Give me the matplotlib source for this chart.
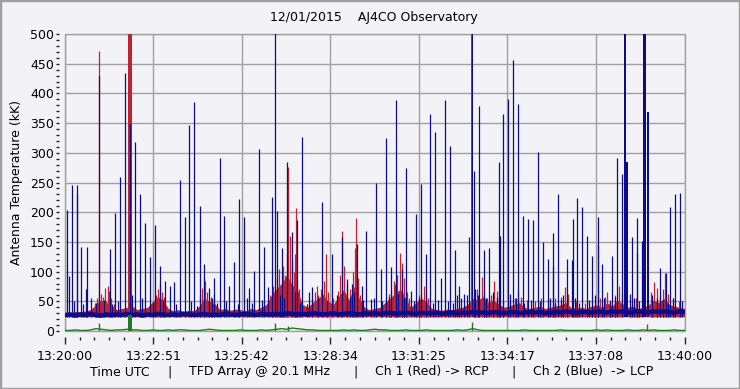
import matplotlib
matplotlib.use("Agg")
import matplotlib.pyplot as plt
from matplotlib.patches import Rectangle
from matplotlib.ticker import MultipleLocator, FixedLocator

# seconds after 13:20:00
x_ticks = [0, 171.43, 342.86, 514.29, 685.71, 857.14, 1028.57, 1200]
x_labels = ["13:20:00", "13:22:51", "13:25:42", "13:28:34",
            "13:31:25", "13:34:17", "13:37:08", "13:40:00"]

# slow levels, one value every 10 s
base_t = list(range(0, 1201, 10))
blue_base = [27, 28, 26, 28, 27, 29, 27, 26, 28, 27, 28,
             27, 29, 27, 28, 26, 28, 27, 29, 28, 27,
             28, 27, 29, 28, 27, 28, 29, 27, 28, 27,
             29, 28, 27, 28, 29, 28, 27, 29, 28, 28,
             29, 28, 30, 29, 28, 29, 28, 30, 29, 28,
             29, 30, 28, 29, 30, 29, 28, 30, 29, 30,
             29, 30, 31, 29, 30, 31, 30, 29, 31, 30,
             30, 31, 29, 30, 31, 30, 31, 30, 32, 31,
             31, 30, 32, 31, 30, 31, 32, 30, 31, 32,
             31, 32, 30, 31, 32, 31, 33, 32, 31, 32,
             32, 31, 33, 32, 31, 33, 32, 33, 31, 32,
             33, 32, 31, 33, 32, 33, 32, 31, 33, 32]
red_env = [30, 31, 33, 32, 34, 36, 45, 52, 48, 44, 36,
           38, 40, 42, 36, 38, 40, 50, 58, 52, 38,
           34, 36, 33, 35, 34, 42, 55, 50, 46, 36,
           38, 35, 37, 36, 34, 38, 36, 40, 45, 60,
           72, 80, 95, 78, 70, 45, 40, 48, 55, 62,
           50, 45, 58, 70, 52, 75, 55, 40, 36, 38,
           40, 48, 55, 65, 70, 55, 40, 48, 55, 50,
           38, 36, 35, 37, 36, 38, 40, 45, 55, 52,
           58, 48, 52, 45, 40, 42, 45, 48, 40, 38,
           40, 42, 38, 40, 42, 44, 48, 40, 38, 40,
           38, 42, 44, 40, 48, 42, 52, 46, 40, 42,
           38, 40, 44, 52, 48, 55, 45, 42, 40, 38]
green_level = [1, 1, 2, 1, 1, 2, 4, 3, 2, 1, 2,
               2, 3, 2, 2, 1, 1, 2, 1, 1, 2,
               1, 2, 2, 1, 1, 1, 2, 3, 2, 1,
               1, 1, 1, 2, 1, 1, 1, 2, 1, 2,
               3, 4, 3, 5, 4, 3, 2, 2, 1, 1,
               1, 1, 1, 2, 1, 2, 1, 1, 2, 3,
               2, 2, 1, 1, 1, 2, 1, 1, 1, 2,
               1, 1, 1, 1, 1, 2, 1, 2, 4, 2,
               1, 1, 1, 1, 1, 1, 1, 1, 2, 1,
               1, 1, 1, 1, 1, 2, 1, 1, 1, 1,
               1, 1, 2, 1, 2, 1, 1, 1, 2, 1,
               1, 2, 1, 2, 1, 1, 1, 2, 1, 1]

# Ch 2 (blue) bursts
blue_spike_t = [3.9, 8.3, 14.1, 22.7, 23.8, 31.6, 41.3, 42.6, 66.4, 87.7,
                97.4, 107.1, 116.8, 125.9, 136.2, 145.9, 155.5, 165.2, 174.9, 184.6,
                194.3, 204.0, 211.7, 223.3, 231.9, 240.2, 250.5, 260.9, 269.8, 279.5,
                289.2, 299.7, 308.6, 318.3, 328.0, 337.6, 347.3, 357.0, 366.1, 376.4,
                386.0, 393.8, 401.5, 407.4, 411.2, 420.9, 430.6, 440.3, 450.0, 459.7,
                472.1, 479.1, 498.5, 517.9, 537.2, 546.9, 555.4, 565.1, 574.8, 583.7,
                593.4, 603.0, 612.7, 622.4, 632.1, 641.8, 652.2, 661.1, 670.8, 680.5,
                690.2, 699.9, 707.6, 717.3, 727.8, 736.6, 746.3, 756.0, 759.9, 763.7,
                773.4, 783.1, 792.8, 802.5, 812.2, 821.9, 841.3, 843.2, 849.0, 858.7,
                868.4, 878.1, 887.7, 897.4, 907.1, 916.8, 926.5, 936.2, 944.7, 945.9,
                955.5, 965.2, 973.0, 982.6, 984.5, 992.3, 1002.0, 1011.7, 1021.4, 1031.8,
                1033.0, 1040.7, 1060.1, 1069.8, 1079.5, 1098.7, 1107.2, 1108.4, 1116.9, 1153.1,
                1163.5, 1172.5, 1182.2, 1191.9]
blue_spike_h = [204, 93, 245, 245, 230, 141, 70, 141, 430, 138,
                199, 259, 434, 348, 319, 231, 182, 125, 178, 110,
                85, 76, 83, 255, 192, 347, 385, 210, 113, 73,
                90, 291, 193, 75, 117, 222, 192, 73, 101, 306,
                142, 74, 226, 520, 202, 140, 285, 167, 187, 326,
                65, 74, 217, 130, 158, 88, 79, 147, 75, 168,
                54, 249, 104, 325, 107, 389, 105, 275, 67, 197,
                247, 130, 366, 335, 90, 389, 311, 136, 60, 76,
                62, 158, 270, 379, 136, 139, 285, 160, 365, 390,
                456, 382, 193, 189, 187, 302, 150, 121, 165, 110,
                231, 60, 121, 120, 189, 224, 209, 160, 126, 144,
                192, 113, 127, 292, 265, 159, 131, 190, 151, 106,
                98, 208, 231, 232]
blue_small_t = [18, 35, 50, 60, 75, 92, 102, 130, 150, 170, 190, 215, 245, 255,
                284, 295, 312, 335, 352, 362, 382, 416, 425, 445, 455, 468, 490, 507,
                526, 552, 560, 578, 598, 615, 628, 645, 656, 676, 686, 712, 722, 742,
                752, 768, 778, 795, 800, 816, 830, 836, 848, 862, 874, 890, 902, 920,
                940, 950, 960, 988, 996, 1015, 1026, 1045, 1055, 1065, 1094, 1102, 1112,
                1138, 1146, 1158, 1168, 1178, 1196]
blue_small_h = [50, 45, 55, 48, 52, 45, 50, 60, 55, 48, 52, 45, 50, 42,
                55, 48, 50, 45, 55, 48, 52, 60, 55, 65, 48, 45, 55, 50,
                60, 58, 65, 52, 55, 50, 58, 62, 55, 50, 55, 48, 52, 50,
                48, 55, 60, 70, 60, 55, 65, 58, 50, 62, 55, 48, 52, 50,
                55, 48, 52, 55, 48, 52, 60, 55, 50, 58, 62, 55, 50,
                60, 55, 52, 48, 55, 50]
blue_wide_t = [789.3, 1085.0, 1089.0, 1123.0, 1130.0]
blue_wide_h = [520, 520, 285, 520, 368]
blue_wide_w = [3.0, 4.0, 3.0, 6.0, 4.0]

# Ch 1 (red) bursts
red_spike_t = [66.4, 269.8, 432.9, 447.5, 445.0, 487.5, 505.0, 536.0, 564.3, 637.6,
               648.3, 695.6, 807.2, 831.7, 878.0, 968.5, 1050.4, 1073.6, 1141.5, 1162.3,
               58, 62, 70, 74, 78, 80, 84, 86, 90, 95,
               176, 180, 184, 188, 192, 262, 266, 272, 276, 282, 288,
               398, 403, 410, 414, 418, 422, 426, 430, 436, 440, 444, 450, 454,
               478, 484, 490, 496, 502, 510, 520, 528, 533, 540, 546, 552, 558, 562, 568, 572,
               622, 628, 632, 640, 644, 652, 656, 662, 666,
               680, 686, 690, 700, 704,
               792, 798, 812, 818, 826, 836, 840,
               862, 872, 884, 894, 910, 922, 936, 950, 960, 974, 990,
               1008, 1020, 1036, 1046, 1056, 1066, 1078, 1095, 1106, 1136, 1146, 1152,
               1158, 1168, 1178, 1190]
red_spike_h = [472, 91, 276, 207, 130, 75, 130, 169, 191, 85,
               132, 75, 91, 85, 67, 74, 65, 76, 83, 98,
               48, 55, 62, 58, 72, 50, 75, 68, 55, 45,
               60, 70, 80, 65, 58, 60, 72, 85, 65, 58, 62,
               60, 75, 90, 105, 80, 110, 95, 130, 160, 120, 100, 85, 70,
               55, 65, 60, 70, 85, 65, 55, 68, 95, 110, 80, 70, 100, 140, 90, 60,
               55, 62, 70, 80, 95, 115, 90, 65, 55,
               52, 60, 58, 65, 55,
               60, 70, 62, 55, 60, 68, 55,
               50, 55, 58, 52, 50, 55, 52, 55, 58, 62, 50,
               48, 52, 55, 58, 52, 60, 62, 50, 55, 65, 72, 60,
               70, 62, 55, 50]
red_wide_t = [125.5, 787.3]
red_wide_h = [520, 520]
red_wide_w = [8.3, 1.6]

# Ch 1 - Ch 2 residual (green)
green_spike_t = [66, 407, 432, 788, 1128]
green_spike_h = [13, 14, 9, 16, 12]
green_wide_t = [126.0]
green_wide_h = [27]
green_wide_w = [7.8]

footer_parts = ["Time UTC", "|", "TFD Array @ 20.1 MHz", "|",
                "Ch 1 (Red) -> RCP", "|", "Ch 2 (Blue)  -> LCP"]

c_red = "#C0222E"
c_blue = "#0C0C8A"
c_green = "#1E7A1E"
bg = "#F3F3F7"
grid_c = "#A0A0A0"
floor = 24

plt.rcParams["font.family"] = "DejaVu Sans"
plt.rcParams["font.size"] = 9

fig = plt.figure(figsize=(7.4, 3.89), dpi=100, facecolor=bg)
ax = fig.add_axes([0.0878, 0.149, 0.8372, 0.7636])
ax.set_facecolor(bg)

# red channel
ax.fill_between(base_t, floor, red_env, color=c_red, lw=0, zorder=2)
ax.vlines(red_spike_t, floor, red_spike_h, color=c_red, lw=0.9, zorder=2)
ax.bar(red_wide_t, [h - floor for h in red_wide_h], width=red_wide_w,
       bottom=floor, color=c_red, lw=0, zorder=2)

# blue channel
ax.plot(base_t, blue_base, color=c_blue, lw=3.2, zorder=3)
ax.vlines(blue_small_t, floor, blue_small_h, color=c_blue, lw=0.9, zorder=3)
ax.vlines(blue_spike_t, floor, blue_spike_h, color=c_blue, lw=0.9, zorder=3)
ax.bar(blue_wide_t, [h - floor for h in blue_wide_h], width=blue_wide_w,
       bottom=floor, color=c_blue, lw=0, zorder=3)

# green channel
ax.plot(base_t, green_level, color=c_green, lw=1.0, zorder=4)
ax.vlines(green_spike_t, 0, green_spike_h, color=c_green, lw=1.0, zorder=4)
ax.bar(green_wide_t, green_wide_h, width=green_wide_w, color=c_green, lw=0, zorder=4)

ax.set_xlim(0, 1200)
ax.set_ylim(0, 500)
ax.xaxis.set_major_locator(FixedLocator(x_ticks))
ax.set_xticklabels(x_labels)
ax.xaxis.set_minor_locator(MultipleLocator(1200 / 42))
ax.yaxis.set_major_locator(MultipleLocator(50))
ax.yaxis.set_minor_locator(MultipleLocator(10))

ax.grid(True, which="major", color=grid_c, lw=1.0, zorder=1)
ax.set_axisbelow(True)
ax.add_patch(Rectangle((0, 0), 1, 1, transform=ax.transAxes, fill=False,
                       ec=grid_c, lw=1.0, zorder=1.5, clip_on=False))

for side in ["top", "right"]:
    ax.spines[side].set_visible(False)
ax.spines["left"].set_position(("outward", 4))
ax.spines["bottom"].set_position(("outward", 4))
ax.spines["left"].set_color("none")
ax.spines["bottom"].set_color("none")

ax.tick_params(axis="x", which="major", length=5, width=1, color="#222222", pad=5)
ax.tick_params(axis="x", which="minor", length=2.5, width=1, color="#222222")
ax.tick_params(axis="y", which="both", length=2, width=1, color="#222222", pad=2)

ax.set_ylabel("Antenna Temperature (kK)", labelpad=5)

fig.text(0.505, 1 - 18 / 389, "12/01/2015    AJ4CO Observatory",
         ha="center", va="center")

# footer pieces, left edges in pixels
footer_x = [90, 167, 189, 353, 375, 511, 533]
for px, part in zip(footer_x, footer_parts):
    fig.text(px / 740, 1 - 372 / 389, part, ha="left", va="center")

fig.patches.append(Rectangle((0, 0), 1, 1, transform=fig.transFigure, fill=False,
                             ec="#A0A0A0", lw=2.5, zorder=10))

fig.savefig("out.png", dpi=100, facecolor=bg)
